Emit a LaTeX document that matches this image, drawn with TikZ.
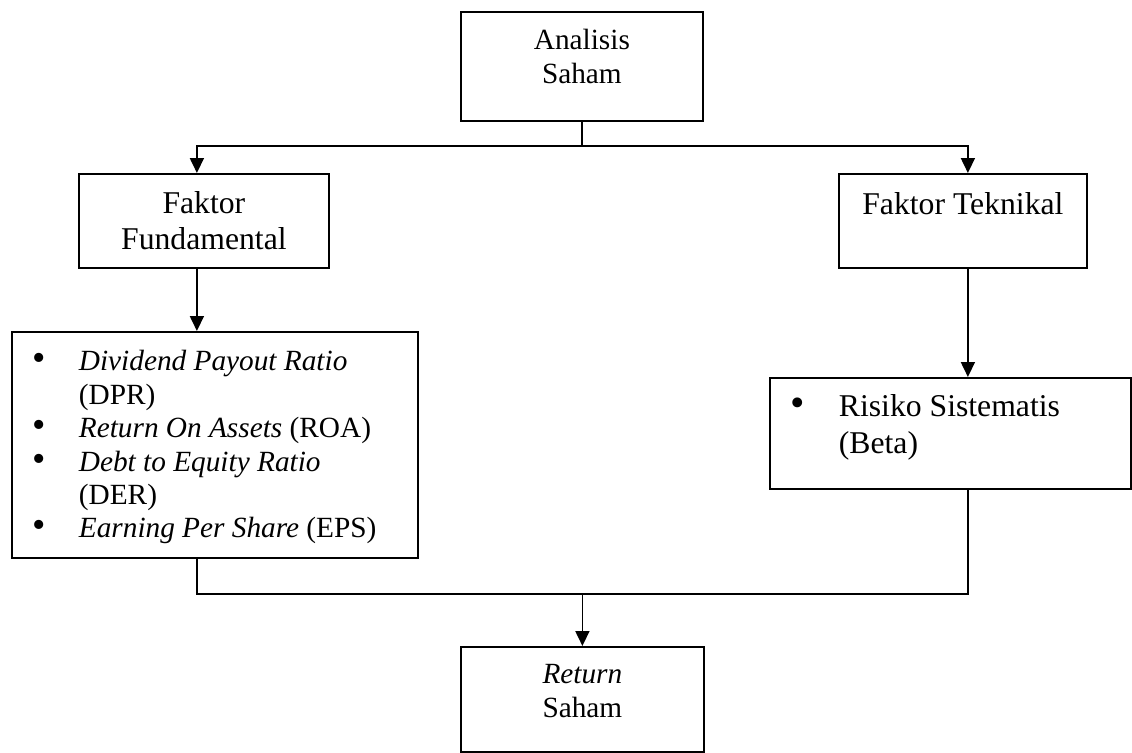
\documentclass[tikz,border=0pt]{standalone}
\usepackage{fontspec}
\setmainfont{Liberation Serif}
\usepackage{tikz}
\usetikzlibrary{arrows.meta}

\newcommand{\smallfont}{\fontsize{29.3}{33.4}\selectfont}
\newcommand{\bigfont}{\fontsize{31.7}{36.5}\selectfont}
% box content: width, height, gap above first line, text
\newcommand{\boxtext}[4]{\parbox[b][#2][t]{#1}{\vspace*{#3}#4}}
\newcommand{\bul}{\scalebox{1.3}{\textbullet}}

\begin{document}
\begin{tikzpicture} [x=1pt, y=-1pt,
		box/.style={draw, line width=1.8pt, inner sep=0pt, anchor=north west},
		link/.style={line width=1.4pt},
		arrow/.style={line width=1.8pt, -{Triangle[length=15pt,width=14pt]}}]
		\useasboundingbox (0,0) rectangle (1132,752);
		%----------------------------------------------------
		% Boxes
		%----------------------------------------------------
		\node [box] (analisis) at (460,11)
			{\boxtext{242pt}{109pt}{14.6pt}{\centering\smallfont\strut Analisis\\Saham}};
		\node [box] (fundamental) at (78,173)
			{\boxtext{250pt}{94pt}{13.8pt}{\centering\bigfont\strut Faktor\\Fundamental}};
		\node [box] (teknikal) at (838,173)
			{\boxtext{248pt}{94pt}{15.4pt}{\centering\bigfont\strut Faktor Teknikal}};

		\node [box] (fundlist) at (11,331)
			{\boxtext{406pt}{226pt}{15.6pt}{\smallfont
			\begin{tabular}{@{\hspace{21pt}}p{46pt}@{}l}
				\bul & \textit{Dividend Payout Ratio}\\
				 & (DPR)\\
				\bul & \textit{Return On Assets} (ROA)\\
				\bul & \textit{Debt to Equity Ratio}\\
				 & (DER)\\
				\bul & \textit{Earning Per Share} (EPS)
			\end{tabular}}};
		\node [box] (risiko) at (769,377)
			{\boxtext{361pt}{111pt}{13.4pt}{\bigfont
			\begin{tabular}{@{\hspace{21pt}}p{48pt}@{}l}
				\bul & Risiko Sistematis\\
				 & (Beta)
			\end{tabular}}};

		\node [box] (retsaham) at (460,646)
			{\boxtext{243pt}{105pt}{13.6pt}{\centering\smallfont\strut\textit{Return}\\Saham}};

		%----------------------------------------------------
		% Connectors
		%----------------------------------------------------
		\coordinate (split) at (analisis.south |- 0,146);
		\coordinate (join) at (retsaham.north |- 0,594);
		\draw [link] (analisis.south) -- (split);
		\draw [arrow] (split) -| ([xshift=-7pt]fundamental.north);
		\draw [arrow] (split) -| ([xshift=5pt]teknikal.north);

		\draw [arrow] ([xshift=-7pt]fundamental.south) -- ([xshift=-7pt]fundamental.south |- fundlist.north);
		\draw [arrow] ([xshift=5pt]teknikal.south) -- ([xshift=5pt]teknikal.south |- risiko.north);

		\draw [link] ([xshift=-7pt]fundamental.south |- fundlist.south) |- (join)
			-| ([xshift=5pt]teknikal.south |- risiko.south);
		\draw [arrow] (join) -- (retsaham.north);
	\end{tikzpicture}
\end{document}
